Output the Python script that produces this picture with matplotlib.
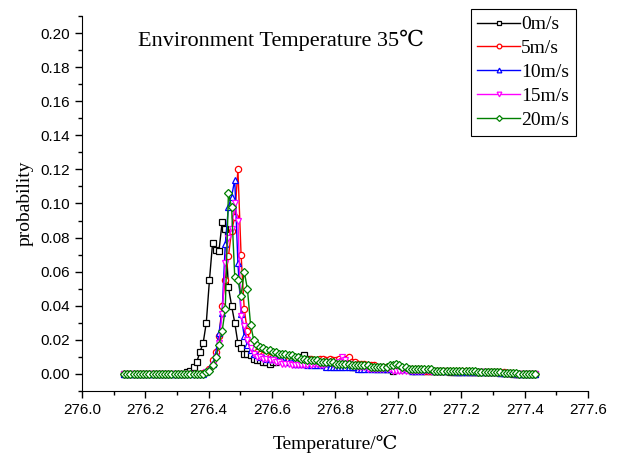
import numpy as np
import matplotlib.pyplot as plt
from matplotlib.ticker import MultipleLocator

# temperature grid (deg C), 0.01 step
temperature = np.round(276.133 + 0.01 * np.arange(131), 3)

# probabilities in thousandths
zeros_head = [0, 0, 0, 0, 0, 0, 0, 0, 0, 0, 0, 0, 0, 0, 0, 0, 0, 0, 0, 0]

p_0 = zeros_head + [
    1, 2, 4, 7, 13, 18, 30, 55, 77, 73, 72, 89, 85, 51, 40, 30, 18, 15, 12, 12,
    11, 9, 8, 8, 7, 7, 6,
    7, 7, 8, 8, 9, 8, 8, 7, 8, 10,
    11, 9, 8, 7, 8, 6, 6, 6, 7, 6,
    5, 5, 6, 5, 5, 4, 4, 4, 5, 4,
    4, 4, 4, 3, 4, 3, 3, 3, 2, 3,
    3, 3, 3, 3, 2, 2, 3, 2, 2, 2,
    2, 2, 2, 2, 2, 2, 1, 1, 1, 1,
    1, 1, 1, 1, 1, 1, 1, 1, 1, 1,
    1, 1, 0.5, 0.5, 0.5, 0.5, 0, 0, 0, 0,
    0, 0, 0, 0]

p_5 = zeros_head + [
    0, 0, 0, 0, 0, 0.5, 1, 3, 8, 13, 22, 40, 55, 69, 84, 92, 120, 70, 38, 25,
    18, 15, 13, 12, 11, 11, 10,
    10, 10, 9, 9, 9, 8, 8, 8, 8, 8,
    8, 8, 9, 8, 8, 9, 9, 8, 9, 8,
    8, 9, 8, 9, 10, 7, 7, 6, 6, 6,
    5, 5, 5, 4, 4, 4, 4, 4, 3, 3,
    3, 3, 3, 3, 3, 3, 3, 3, 2, 2,
    2, 2, 2, 2, 2, 2, 2, 2, 2, 2,
    2, 2, 2, 1, 1, 1, 1, 1, 1, 1,
    1, 1, 1, 1, 0.5, 0.5, 0.5, 0, 0, 0,
    0, 0, 0, 0]

p_10 = zeros_head + [
    0, 0, 0, 0, 0, 0, 1, 3, 6, 12, 24, 36, 76, 98, 104, 114, 65, 35, 22, 17,
    14, 12, 11, 10, 10, 9, 9,
    9, 9, 8, 8, 7, 7, 7, 6, 6, 6,
    6, 5, 5, 5, 5, 5, 5, 4, 4, 4,
    4, 4, 4, 4, 4, 4, 4, 3, 3, 3,
    3, 3, 3, 3, 3, 3, 3, 3, 3, 3,
    3, 3, 3, 3, 2, 2, 2, 2, 3, 3,
    3, 2, 2, 2, 2, 2, 2, 2, 1, 1,
    1, 1, 1, 1, 1, 1, 1, 1, 1, 1,
    1, 1, 0.5, 0.5, 0.5, 0.5, 0.5, 0, 0, 0,
    0, 0, 0, 0]

p_15 = zeros_head + [
    0, 0, 0, 0, 0, 0, 1, 2, 5, 10, 18, 35, 65, 80, 85, 100, 90, 34, 28, 20,
    15, 12, 10, 10, 9, 9, 8,
    8, 7, 7, 6, 6, 6, 5, 5, 5, 5,
    5, 5, 5, 6, 6, 5, 5, 6, 7, 6,
    6, 7, 10, 8, 6, 5, 5, 4, 4, 4,
    3, 3, 3, 3, 3, 3, 3, 3, 2, 2,
    2, 2, 2, 2, 2, 2, 2, 2, 2, 2,
    2, 1, 1, 1, 1, 1, 1, 1, 1, 1,
    1, 1, 1, 1, 1, 1, 1, 1, 0.5, 0.5,
    0.5, 0.5, 0.5, 0.5, 0, 0, 0, 0, 0, 0,
    0, 0, 0, 0]

p_20 = zeros_head + [
    0, 0, 0, 0, 0, 0, 1, 2, 5, 10, 17, 25, 38, 106, 98, 57, 55, 46, 60, 50,
    29, 20, 17, 16, 15, 14, 14,
    13, 13, 12, 12, 12, 11, 11, 10, 10, 9,
    9, 8, 8, 8, 8, 7, 7, 7, 7, 7,
    6, 6, 6, 6, 6, 5, 5, 5, 5, 5,
    5, 4, 4, 4, 4, 4, 4, 5, 5, 6,
    5, 4, 4, 3, 3, 3, 3, 3, 3, 3,
    3, 2, 2, 2, 2, 2, 2, 2, 2, 2,
    2, 2, 2, 2, 2, 1, 1, 1, 1, 1,
    1, 1, 1, 0.5, 0.5, 0.5, 0.5, 0.5, 0, 0,
    0, 0, 0, 0]

labels = ['0m/s', '5m/s', '10m/s', '15m/s', '20m/s']
series = [p_0, p_5, p_10, p_15, p_20]
colors = ['black', '#FF0000', '#0000FF', '#FF00FF', '#008000']
markers = ['s', 'o', '^', 'v', 'D']

serif = ['Liberation Serif', 'DejaVu Serif']
plt.rcParams['font.family'] = ['Liberation Sans', 'DejaVu Sans']

fig = plt.figure(figsize=(6.3, 4.53), dpi=100)
ax = fig.add_axes([82 / 630, 62 / 453, 506 / 630, 375 / 453])

for vals, lab, c, m in zip(series, labels, colors, markers):
    ax.plot(temperature, np.array(vals) / 1000.0, color=c, lw=1.0,
            marker=m, markersize=4.5 if m != 'D' else 4, markerfacecolor='white',
            markeredgecolor=c, markeredgewidth=0.9, label=lab)

ax.set_xlim(276.0, 277.6)
ax.set_ylim(-0.01, 0.21)
ax.xaxis.set_major_locator(MultipleLocator(0.2))
ax.xaxis.set_minor_locator(MultipleLocator(0.1))
ax.yaxis.set_major_locator(MultipleLocator(0.02))
ax.yaxis.set_minor_locator(MultipleLocator(0.01))
ax.xaxis.set_major_formatter(plt.FormatStrFormatter('%.1f'))
ax.yaxis.set_major_formatter(plt.FormatStrFormatter('%.2f'))
ax.tick_params(which='major', direction='out', length=5, width=1, labelsize=11)
ax.tick_params(which='minor', direction='out', length=3, width=1)
ax.spines['top'].set_visible(False)
ax.spines['right'].set_visible(False)

ax.set_xlabel('Temperature/℃', family=serif, fontsize=14, labelpad=13)
ax.set_ylabel('probability', family=serif, fontsize=14, labelpad=5)

fig.text(138 / 630, 1 - 40 / 453, 'Environment Temperature 35℃',
         family=serif, fontsize=16, va='center', ha='left')

leg = ax.legend(loc='upper right', bbox_to_anchor=(576 / 630, 1 - 9 / 453),
                bbox_transform=fig.transFigure, prop={'family': serif, 'size': 14},
                frameon=True, fancybox=False, edgecolor='black', framealpha=1,
                handlelength=2.2, handletextpad=0.05, labelspacing=0.32,
                borderpad=0.35, borderaxespad=0, markerscale=0.75)
leg.get_frame().set_linewidth(0.8)

fig.savefig('out.png', dpi=100)
